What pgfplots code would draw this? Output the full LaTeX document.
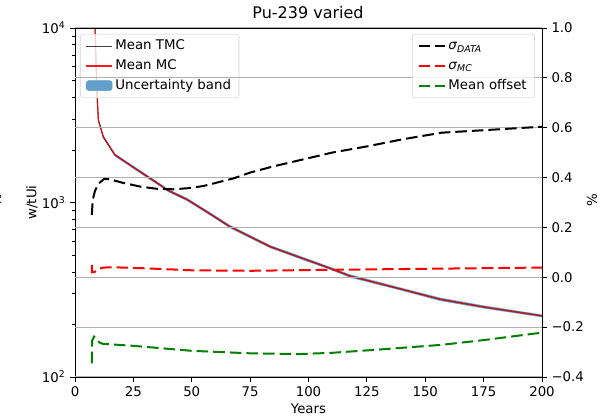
\documentclass[border=0pt]{standalone}
\usepackage{fontspec}
\setmainfont{DejaVu Sans}
\usepackage{pgfplots}
\pgfplotsset{compat=1.18}
\definecolor{band}{RGB}{98,160,202}
\definecolor{gridc}{RGB}{176,176,176}
\definecolor{mplgreen}{rgb}{0,0.5,0}

\pgfplotstableread{
x y
8.2 15500
9.3 4610
10.0 2970
12.1 2380
17.1 1872
25 1592
32.1 1377
40 1170
48 1040
57 875
66.4 727
75 637
83.5 559
96.4 484
109.2 420
117.8 379
140 318
156.3 279
175 252
200 224
}\meandata
% uncertainty band: upper edge then lower edge (reversed)
\pgfplotstableread{
x y
8.2 15810
9.3 4700
10.0 3030
12.1 2428
17.1 1909
25 1624
32.1 1405
40 1193
48 1061
57 893
66.4 742
75 650
83.5 570
96.4 494
109.2 428
117.8 387
140 324
156.3 285
175 257
200 228
200 220
175 247
156.3 273
140 312
117.8 371
109.2 412
96.4 474
83.5 548
75 624
66.4 712
57 857
48 1019
40 1147
32.1 1349
25 1560
17.1 1835
12.1 2332
10.0 2910
9.3 4520
8.2 15190
}\banddata
\pgfplotstableread{
x y
7.2 0.25
7.6 0.31
8.5 0.345
10 0.375
12.5 0.395
15 0.393
20 0.38
27.8 0.364
35 0.355
42 0.353
48 0.357
55 0.366
68 0.397
75 0.42
85 0.445
96.4 0.47
110 0.50
125 0.525
140 0.553
157 0.58
175 0.59
200 0.604
}\sigdata
\pgfplotstableread{
x y
7.2 0.05
7.3 0.02
8.5 0.022
10 0.033
12 0.039
17 0.04
30 0.036
50 0.028
75 0.026
100 0.029
150 0.034
200 0.039
}\sigmc
\pgfplotstableread{
x y
7.2 -0.345
7.3 -0.255
8.2 -0.238
10.5 -0.262
12 -0.267
25 -0.275
50 -0.295
75 -0.305
96 -0.308
110 -0.303
130 -0.29
157 -0.271
175 -0.252
200 -0.222
}\offdata

\begin{document}
\begin{tikzpicture}[font=\fontsize{10}{12}\selectfont]
\path[use as bounding box] (-56.25pt,-30pt) rectangle (393.75pt,282.75pt);
\pgfplotsset{
  common/.style={
    at={(0,0)}, anchor=south west,
    width=350.25pt, height=261.75pt, scale only axis,
    xmin=0, xmax=200,
    tick align=outside,
    major tick length=3.6pt, minor tick length=2.1pt,
    every tick/.style={black, line width=0.6pt},
    axis line style={line width=0.6pt},
    /pgf/number format/assume math mode=true,
    legend image code/.code={\draw[##1] (0pt,0pt) -- (19.5pt,0pt);},
    legend style={draw=gray!35, rounded corners=2pt, fill=white, fill opacity=0.8, text opacity=1,
      row sep=0pt, inner xsep=4pt, inner ysep=1.8pt, font=\fontsize{10}{12}\selectfont,
      nodes={text height=7.6pt, text depth=2.3pt, inner ysep=2.4pt}},
    legend cell align=left,
  }
}
\begin{axis}[common,
  ymode=log, ymin=100, ymax=10000,
  xtick={0,25,50,75,100,125,150,175,200},
  ytick={100,1000,10000},
  yticklabels={10\textsuperscript{2},10\textsuperscript{3},10\textsuperscript{4}},
  xtick pos=bottom, ytick pos=left,
  xlabel={Years}, ylabel={w/tUi},
  xlabel style={at={(axis description cs:0.5,-0.092)}, anchor=center},
  ylabel style={at={(axis description cs:-0.092,0.5)}, anchor=center},
  legend style={at={(0.0107,0.983)}, anchor=north west},
]
\addplot[fill=band, draw=none, forget plot] table {\banddata};
\addplot[black, opacity=0.75, line width=0.8pt] table {\meandata};
\addlegendentry{Mean TMC}
\addplot[red, opacity=0.9, line width=0.8pt] table {\meandata};
\addlegendentry{Mean MC}
\addlegendimage{legend image code/.code={\fill[band, fill opacity=1] (0pt,-3.7pt) rectangle (19.5pt,3.7pt);}}
\addlegendentry{Uncertainty band}
\end{axis}
\begin{axis}[common,
  ymin=-0.4, ymax=1.0,
  axis x line*=box, xtick=\empty, xticklabels={},
  axis y line*=right,
  ytick={-0.4,-0.2,0,0.2,0.4,0.6,0.8,1.0},
  yticklabels={−0.4,−0.2,0.0,0.2,0.4,0.6,0.8,1.0},
  ymajorgrids, grid style={gridc, line width=0.8pt},
  ylabel={\%},
  ylabel style={at={(axis description cs:1.107,0.507)}, anchor=center},
  legend style={at={(0.985,0.983)}, anchor=north east},
]
\addplot[black, line width=1.5pt, dash pattern=on 8.7pt off 3.75pt] table {\sigdata};
\addlegendentry{\textit{σ}\textsubscript{\textit{DATA}}}
\addplot[red, line width=1.5pt, dash pattern=on 8.7pt off 3.75pt] table {\sigmc};
\addlegendentry{\textit{σ}\textsubscript{\textit{MC}}}
\addplot[mplgreen, line width=1.5pt, dash pattern=on 8.7pt off 3.75pt] table {\offdata};
\addlegendentry{Mean offset}
\end{axis}
\node[font=\fontsize{12}{14}\selectfont, anchor=base] at (174.75pt,268.5pt) {Pu-239 varied};
\node[rotate=90] at (-59pt,132.75pt) {\%};
\end{tikzpicture}
\end{document}
